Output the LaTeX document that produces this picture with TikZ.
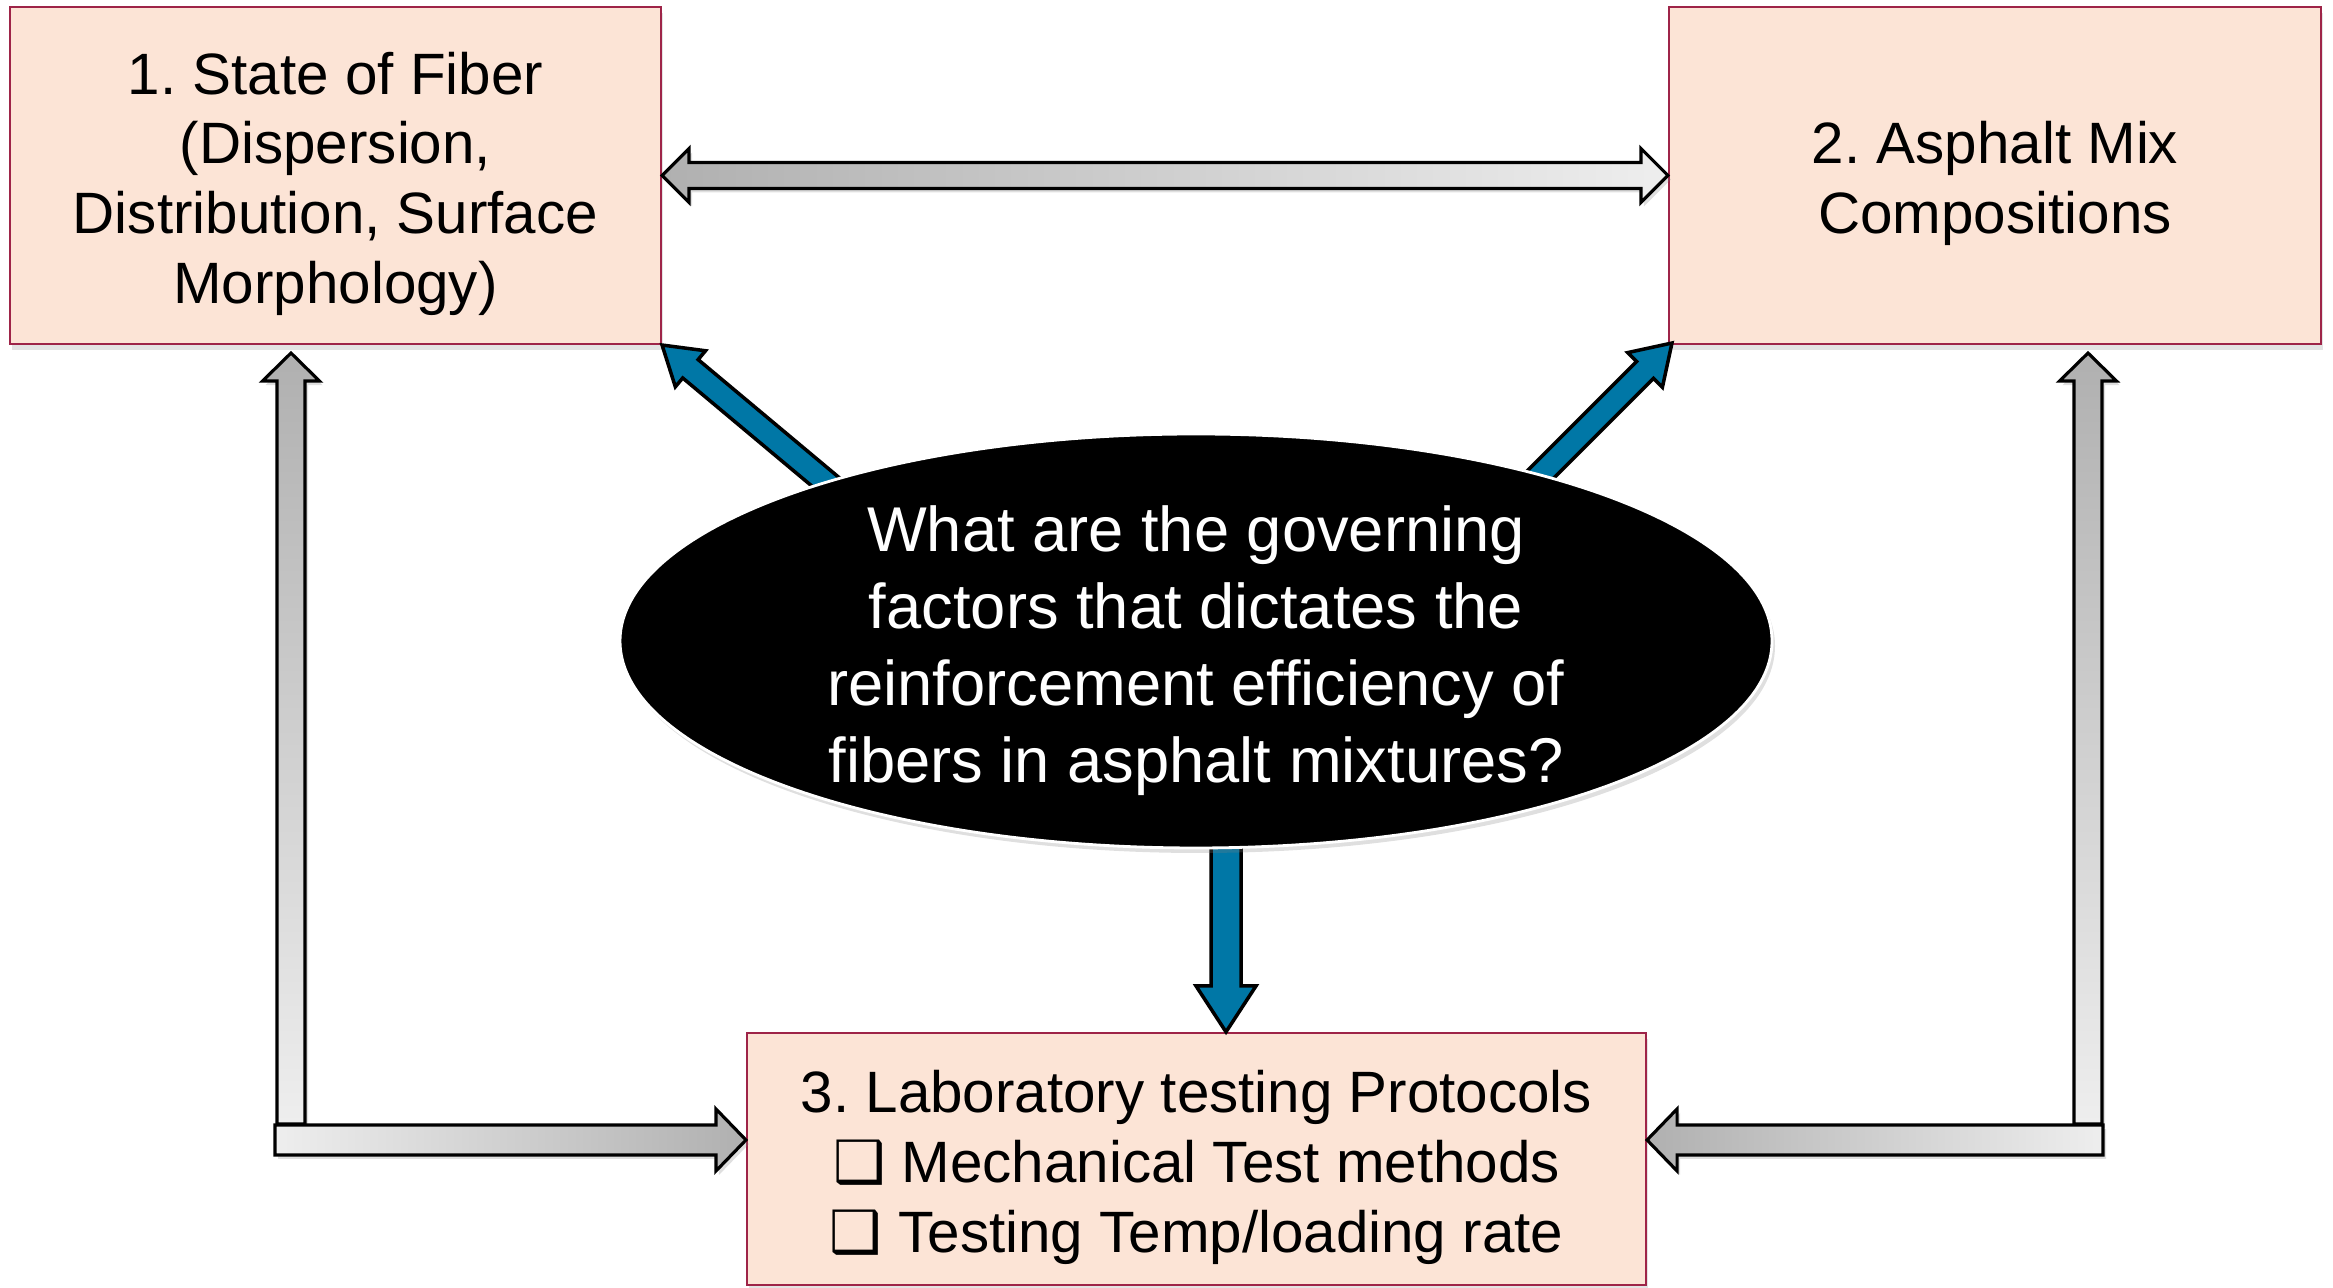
\documentclass[tikz,border=0pt]{standalone}
\usepackage{fontspec}
\setmainfont{Liberation Sans}
\newfontfamily\boxglyph{DejaVu Sans}
\usepackage{tikz}
\usetikzlibrary{calc,positioning,shapes.geometric,shadows}
\frenchspacing
\definecolor{fbPeach}{RGB}{252,228,214}
\definecolor{fbMaroon}{RGB}{158,36,72}
\definecolor{fbBlue}{RGB}{0,119,166}
\definecolor{fbGrayDark}{RGB}{176,176,176}
\definecolor{fbGrayLight}{RGB}{238,238,238}

% strut on the first line, pushes the text block down a little
\newcommand{\toppad}[1]{\rule{0pt}{#1}}

% one-headed block arrow: style, tail, tip, half shaft, half head, head length
\newcommand{\blockarrow}[6]{%
  \coordinate (ba) at ($(#3)!#6!(#2)$);
  \draw[#1] ($(#2)!#4!90:(#3)$) -- ($(ba)!#4!90:(#3)$) -- ($(ba)!#5!90:(#3)$) -- (#3)
    -- ($(ba)!#5!-90:(#3)$) -- ($(ba)!#4!-90:(#3)$) -- ($(#2)!#4!-90:(#3)$) -- cycle;
}
% two-headed block arrow, same arguments
\newcommand{\twowayarrow}[6]{%
  \coordinate (ba) at ($(#3)!#6!(#2)$);
  \coordinate (bb) at ($(#2)!#6!(#3)$);
  \draw[#1] (#2) -- ($(bb)!#5!90:(#3)$) -- ($(bb)!#4!90:(#3)$) -- ($(ba)!#4!90:(#3)$)
    -- ($(ba)!#5!90:(#3)$) -- (#3) -- ($(ba)!#5!-90:(#3)$) -- ($(ba)!#4!-90:(#3)$)
    -- ($(bb)!#4!-90:(#3)$) -- ($(bb)!#5!-90:(#3)$) -- cycle;
}

\begin{document}
\begin{tikzpicture}[x=1cm,y=1cm,
    factorBox/.style={draw=fbMaroon, line width=0.6pt, fill=fbPeach, align=center, inner sep=0pt,
      font=\fontsize{16.6}{19.9}\selectfont,
      drop shadow={opacity=0.22, shadow xshift=0.02, shadow yshift=-0.06}},
    grayArrow/.style={draw=black, line width=0.9pt, line join=miter,
      drop shadow={opacity=0.25, shadow xshift=0.03, shadow yshift=-0.04}},
    blueArrow/.style={draw=black, line width=1pt, line join=miter, fill=fbBlue}]

    \useasboundingbox (0,0) rectangle (23.33,12.88);

    % Factor boxes
    \node[factorBox, minimum width=6.51cm, minimum height=3.37cm] (fiber) at (3.355,11.125)
        {\toppad{0.59cm}1. State of Fiber\\(Dispersion,\\Distribution, Surface\\Morphology)};
    \node[factorBox, minimum width=6.52cm, minimum height=3.37cm] (mix) at (19.95,11.125)
        {\toppad{0.59cm}2. Asphalt Mix\\Compositions};
    \node[factorBox, minimum width=8.99cm, minimum height=2.52cm] (lab) at (11.965,1.29)
        {\toppad{0.59cm}3. Laboratory testing Protocols\\
         {\boxglyph ❑} Mechanical Test methods\\
         {\boxglyph ❑} Testing Temp/loading rate};

    % Gray links
    \twowayarrow{grayArrow, left color=fbGrayDark, right color=fbGrayLight}{fiber.east}{mix.west}{0.13cm}{0.27cm}{0.27cm}

    \coordinate (lfoot) at (2.91,1.64);
    \coordinate (ltip) at ($(lfoot |- fiber.south)+(0,-0.08)$);
    \coordinate (lbar) at (2.75,1.48);
    \coordinate (lbarTip) at (lbar -| lab.west);
    \blockarrow{grayArrow, top color=fbGrayDark, bottom color=fbGrayLight}{lfoot}{ltip}{0.14cm}{0.285cm}{0.28cm}
    \blockarrow{grayArrow, left color=fbGrayLight, right color=fbGrayDark}{lbar}{lbarTip}{0.15cm}{0.31cm}{0.30cm}

    \coordinate (rfoot) at (20.88,1.64);
    \coordinate (rtip) at ($(rfoot |- mix.south)+(0,-0.08)$);
    \coordinate (rbar) at (21.03,1.48);
    \coordinate (rbarTip) at (rbar -| lab.east);
    \blockarrow{grayArrow, top color=fbGrayDark, bottom color=fbGrayLight}{rfoot}{rtip}{0.14cm}{0.285cm}{0.28cm}
    \blockarrow{grayArrow, left color=fbGrayDark, right color=fbGrayLight}{rbar}{rbarTip}{0.15cm}{0.31cm}{0.30cm}

    % Blue arrows out of the question
    \coordinate (qleft) at (8.46,7.89);
    \coordinate (qright) at (15.22,7.95);
    \coordinate (qfoot) at (12.26,4.6);
    \coordinate (qfootTip) at (qfoot |- lab.north);
    \blockarrow{blueArrow}{qleft}{fiber.south east}{0.12cm}{0.235cm}{0.37cm}
    \blockarrow{blueArrow}{qright}{$(mix.south west)+(0.04,0.02)$}{0.12cm}{0.245cm}{0.38cm}
    \blockarrow{blueArrow}{qfoot}{qfootTip}{0.15cm}{0.30cm}{0.46cm}

    % Question
    \node[ellipse, fill=black, draw=white, line width=0.8pt, text=white, align=center,
          minimum width=11.52cm, minimum height=4.14cm, inner xsep=0pt, inner ysep=-0.5cm,
          font=\fontsize{18}{21.9}\selectfont,
          drop shadow={opacity=0.25, shadow xshift=0.03, shadow yshift=-0.05}] (quest) at (11.96,6.47)
        {\toppad{0.65cm}What are the governing\\factors that dictates the\\reinforcement efficiency of\\fibers in asphalt mixtures?};

\end{tikzpicture}
\end{document}
